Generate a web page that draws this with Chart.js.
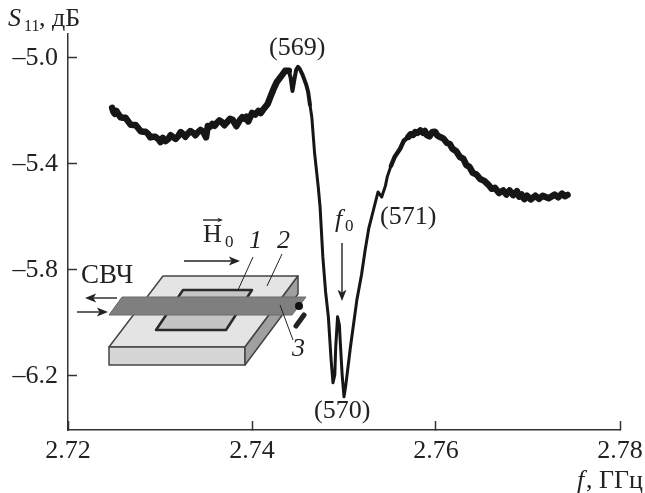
<!DOCTYPE html>
<html>
<head>
<meta charset="utf-8">
<script src="https://cdn.jsdelivr.net/npm/chart.js@4"></script>
<style>
    html, body { margin: 0; padding: 0; background: #fff; }
    canvas { display: block; }
</style>
</head>
<body>
<canvas id="chart" width="645" height="493"></canvas>
<script>
const freq = [
    2.7248, 2.72495, 2.7251, 2.72525, 2.7254, 2.7257, 2.7260, 2.72625, 2.7265, 2.7268,
    2.7271, 2.72735, 2.7276, 2.7279, 2.7282, 2.72845, 2.7287, 2.72895, 2.7292, 2.7295,
    2.7298, 2.73005, 2.7303, 2.7306, 2.7309, 2.73115, 2.7314, 2.7317, 2.7320, 2.73225,
    2.7325, 2.73275, 2.7330, 2.7333, 2.7336, 2.73385, 2.7341, 2.7344, 2.7347, 2.7350,
    2.7352, 2.73545, 2.7357, 2.73595, 2.7362, 2.73645, 2.7367, 2.7370, 2.7373, 2.7376,
    2.7379, 2.7383, 2.7387, 2.73895, 2.7392, 2.7394, 2.7396, 2.7400, 2.74035, 2.7407,
    2.74095, 2.7412, 2.7417, 2.7420, 2.7423, 2.7427, 2.7432, 2.7436, 2.7440,
    2.7442, 2.7444, 2.7446, 2.7448, 2.7450, 2.7452, 2.7455, 2.7459, 2.7461, 2.7463,
    2.7465, 2.7468, 2.7472, 2.7474, 2.7477, 2.7480, 2.7483, 2.7486, 2.7488, 2.7490,
    2.7491, 2.7493, 2.7495, 2.7496, 2.7498, 2.7500, 2.7502, 2.7507, 2.7514, 2.7519,
    2.7523, 2.7527, 2.7532, 2.7537, 2.7541, 2.7545, 2.7547, 2.7551, 2.7555, 2.7561,
    2.7565, 2.7570, 2.75725, 2.7575, 2.75775, 2.7580, 2.7583, 2.7586, 2.7588, 2.7590,
    2.7593, 2.7596, 2.7599, 2.76015, 2.7604, 2.7608, 2.7612, 2.7615, 2.7618, 2.7622,
    2.7626, 2.76295, 2.7633, 2.76365, 2.7640, 2.7644, 2.7648, 2.76525, 2.7657, 2.76605,
    2.7664, 2.76685, 2.7673, 2.76765, 2.7680, 2.7684, 2.7688, 2.76905, 2.7693, 2.7696,
    2.7699, 2.7703, 2.7708, 2.7712, 2.7716, 2.77225, 2.7729, 2.7733, 2.7737, 2.7740,
    2.7743
];
const s11 = [
    -5.189, -5.205, -5.211, -5.200, -5.208, -5.224, -5.226, -5.226, -5.238, -5.252,
    -5.253, -5.253, -5.264, -5.277, -5.279, -5.279, -5.287, -5.300, -5.298, -5.298,
    -5.306, -5.318, -5.302, -5.314, -5.306, -5.292, -5.298, -5.306, -5.294, -5.280,
    -5.287, -5.298, -5.287, -5.276, -5.283, -5.292, -5.281, -5.272, -5.279, -5.300,
    -5.257, -5.260, -5.249, -5.256, -5.245, -5.236, -5.242, -5.254, -5.242, -5.230,
    -5.234, -5.258, -5.234, -5.224, -5.230, -5.222, -5.240, -5.208, -5.214, -5.200,
    -5.208, -5.196, -5.174, -5.147, -5.121, -5.091, -5.068, -5.049, -5.049,
    -5.075, -5.125, -5.083, -5.045, -5.034, -5.042, -5.064, -5.102, -5.128, -5.177,
    -5.223, -5.358, -5.487, -5.562, -5.751, -5.883, -5.977, -6.140, -6.226, -6.196,
    -6.091, -5.977, -6.008, -6.075, -6.196, -6.279, -6.234, -6.091, -5.913, -5.819,
    -5.725, -5.642, -5.574, -5.506, -5.525, -5.483, -5.449, -5.408, -5.374, -5.343,
    -5.313, -5.298, -5.288, -5.291, -5.280, -5.283, -5.274, -5.283, -5.276, -5.291,
    -5.296, -5.280, -5.279, -5.293, -5.298, -5.304, -5.321, -5.325, -5.343, -5.352,
    -5.374, -5.380, -5.404, -5.412, -5.434, -5.440, -5.457, -5.464, -5.479, -5.494,
    -5.490, -5.510, -5.500, -5.516, -5.500, -5.518, -5.503, -5.524, -5.515, -5.533,
    -5.520, -5.534, -5.520, -5.532, -5.520, -5.530, -5.516, -5.526, -5.512, -5.522,
    -5.517
];
const xTicks = [2.72, 2.74, 2.76, 2.78];
const yTicks = [-5.0, -5.4, -5.8, -6.2];

const SERIF = '"Liberation Serif", serif';
const INK = '#222';

function text(ctx, str, x, y, size, italic) {
    ctx.font = (italic ? 'italic ' : '') + size + 'px ' + SERIF;
    ctx.fillStyle = INK;
    ctx.textAlign = 'left';
    ctx.textBaseline = 'alphabetic';
    ctx.fillText(str, x, y);
}

function poly(ctx, pts, fill, stroke, width) {
    ctx.beginPath();
    pts.forEach((p, i) => i ? ctx.lineTo(p[0], p[1]) : ctx.moveTo(p[0], p[1]));
    ctx.closePath();
    ctx.fillStyle = fill;
    ctx.fill();
    ctx.strokeStyle = stroke;
    ctx.lineWidth = width;
    ctx.stroke();
}

function line(ctx, x1, y1, x2, y2, width) {
    ctx.beginPath();
    ctx.moveTo(x1, y1);
    ctx.lineTo(x2, y2);
    ctx.strokeStyle = INK;
    ctx.lineWidth = width;
    ctx.stroke();
}

function arrow(ctx, x1, y1, x2, y2, head) {
    const a = Math.atan2(y2 - y1, x2 - x1);
    line(ctx, x1, y1, x2 - Math.cos(a) * head * 0.7, y2 - Math.sin(a) * head * 0.7, 1.4);
    ctx.beginPath();
    ctx.moveTo(x2, y2);
    ctx.lineTo(x2 - Math.cos(a - 0.38) * head, y2 - Math.sin(a - 0.38) * head);
    ctx.lineTo(x2 - Math.cos(a) * head * 0.7, y2 - Math.sin(a) * head * 0.7);
    ctx.lineTo(x2 - Math.cos(a + 0.38) * head, y2 - Math.sin(a + 0.38) * head);
    ctx.closePath();
    ctx.fillStyle = INK;
    ctx.fill();
}

// the sample sketch and all the hand placed captions
const annotations = {
    id: 'annotations',
    afterDraw(chart) {
        const ctx = chart.ctx;
        ctx.save();
        ctx.lineJoin = 'round';

        // plate
        poly(ctx, [[163, 276], [298, 276], [245, 347], [109, 347]], '#e4e4e4', '#444', 1.5);
        poly(ctx, [[109, 347], [245, 347], [245, 365], [109, 365]], '#d6d6d6', '#444', 1.5);
        poly(ctx, [[245, 347], [298, 276], [298, 294], [245, 365]], '#a0a0a0', '#444', 1.5);
        // resonator film
        poly(ctx, [[183, 290], [252, 290], [226, 330], [156, 330]], '#c4c4c4', '#2a2a2a', 2.5);
        // strip line
        poly(ctx, [[122, 297], [306, 297], [292, 315], [109, 315]], '#7f7f7f', '#6a6a6a', 1);
        // short at the strip end
        ctx.beginPath();
        ctx.arc(299, 306, 4, 0, Math.PI * 2);
        ctx.fillStyle = '#111';
        ctx.fill();
        ctx.lineCap = 'round';
        line(ctx, 296, 326, 304, 315, 5);
        ctx.lineCap = 'butt';

        // leaders
        line(ctx, 253, 257, 238, 290, 1);
        line(ctx, 282, 254, 267, 286, 1);
        line(ctx, 280, 305, 293, 340, 1);

        // arrows
        arrow(ctx, 184, 261, 240, 261, 12);
        arrow(ctx, 117, 298, 85, 298, 12);
        arrow(ctx, 77, 312, 108, 312, 12);
        arrow(ctx, 342, 243, 342, 301, 12);
        arrow(ctx, 203, 220, 223, 220, 6);

        // sketch captions
        text(ctx, 'СВЧ', 81, 283, 27);
        text(ctx, 'H', 203, 242, 26);
        text(ctx, '0', 225, 247, 17);
        text(ctx, '1', 249, 248, 26, true);
        text(ctx, '2', 277, 248, 26, true);
        text(ctx, '3', 292, 356, 26, true);

        // curve captions
        text(ctx, '(569)', 269, 55, 26);
        text(ctx, '(570)', 314, 418, 26);
        text(ctx, '(571)', 380, 224, 26);
        text(ctx, 'f', 335, 227, 26, true);
        text(ctx, '0', 345, 231, 17);

        // axis titles
        text(ctx, 'S', 8, 26, 26, true);
        text(ctx, '11', 24, 31, 16);
        text(ctx, ', дБ', 39, 26, 26);
        text(ctx, 'f', 577, 488, 26, true);
        text(ctx, ', ГГц', 586, 488, 26);

        ctx.restore();
    }
};

new Chart(document.getElementById('chart').getContext('2d'), {
    type: 'scatter',
    data: {
        datasets: [{
            data: freq.map((f, i) => ({ x: f, y: s11[i] })),
            showLine: true,
            borderColor: '#161616',
            borderWidth: 6.5,
            borderJoinStyle: 'round',
            borderCapStyle: 'round',
            pointRadius: 0,
            tension: 0,
            segment: {
                borderWidth: c => {
                    const f = c.p0.parsed.x;
                    if (f < 2.7440) return 6.5;
                    if (f < 2.7462) return 4;
                    if (f < 2.7550) return 3;
                    if (f < 2.7570) return 4.5;
                    return 6.5;
                }
            }
        }]
    },
    plugins: [annotations],
    options: {
        responsive: false,
        animation: false,
        events: [],
        layout: { padding: { left: 0, right: 25, top: 34, bottom: 0 } },
        plugins: {
            legend: { display: false },
            tooltip: { enabled: false }
        },
        scales: {
            x: {
                type: 'linear',
                min: 2.72,
                max: 2.78,
                afterBuildTicks: scale => { scale.ticks = xTicks.map(v => ({ value: v })); },
                afterFit: scale => { scale.height = 63; scale.paddingLeft = 0; scale.paddingRight = 0; },
                border: { color: '#333', width: 1.5 },
                grid: { drawOnChartArea: false, tickLength: -9, tickColor: '#333', tickWidth: 1.5 },
                ticks: {
                    padding: 15,
                    maxRotation: 0,
                    autoSkip: false,
                    color: INK,
                    font: { family: SERIF, size: 26 },
                    callback: v => v.toFixed(2)
                }
            },
            y: {
                type: 'linear',
                min: -6.404,
                max: -4.91,
                afterBuildTicks: scale => { scale.ticks = yTicks.map(v => ({ value: v })); },
                afterFit: scale => { scale.width = 68; scale.paddingTop = 0; scale.paddingBottom = 0; },
                border: { color: '#333', width: 1.5 },
                grid: { drawOnChartArea: false, tickLength: -9, tickColor: '#333', tickWidth: 1.5 },
                ticks: {
                    padding: 19,
                    autoSkip: false,
                    color: INK,
                    font: { family: SERIF, size: 26 },
                    callback: v => '–' + Math.abs(v).toFixed(1)
                }
            }
        }
    }
});
</script>
</body>
</html>
